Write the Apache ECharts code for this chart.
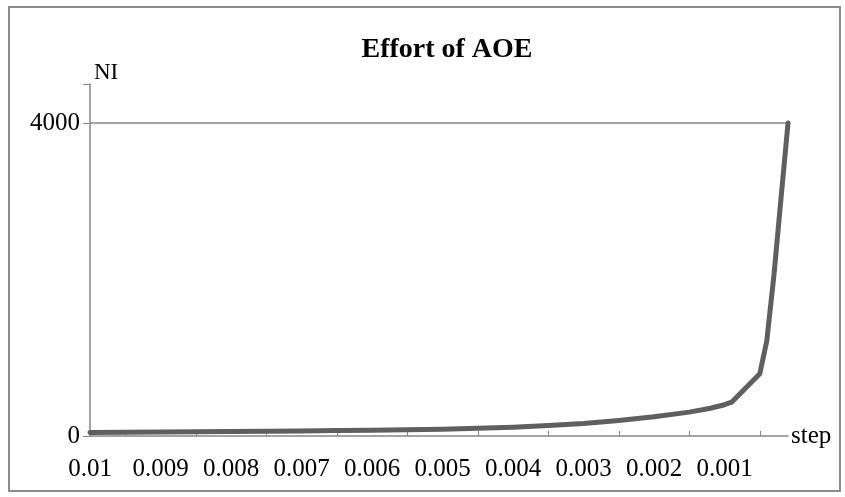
<!DOCTYPE html>
<html>
<head>
<meta charset="utf-8">
<script src="https://cdn.jsdelivr.net/npm/echarts@6/dist/echarts.min.js"></script>
<style>html,body{margin:0;padding:0;background:#fff}#c{width:845px;height:497px}</style>
</head>
<body>
<div id="c"></div>
<script>
var categories = ['0.0100','0.0099','0.0098','0.0097','0.0096','0.0095','0.0094','0.0093','0.0092','0.0091',
'0.0090','0.0089','0.0088','0.0087','0.0086','0.0085','0.0084','0.0083','0.0082','0.0081',
'0.0080','0.0079','0.0078','0.0077','0.0076','0.0075','0.0074','0.0073','0.0072','0.0071',
'0.0070','0.0069','0.0068','0.0067','0.0066','0.0065','0.0064','0.0063','0.0062','0.0061',
'0.0060','0.0059','0.0058','0.0057','0.0056','0.0055','0.0054','0.0053','0.0052','0.0051',
'0.0050','0.0049','0.0048','0.0047','0.0046','0.0045','0.0044','0.0043','0.0042','0.0041',
'0.0040','0.0039','0.0038','0.0037','0.0036','0.0035','0.0034','0.0033','0.0032','0.0031',
'0.0030','0.0029','0.0028','0.0027','0.0026','0.0025','0.0024','0.0023','0.0022','0.0021',
'0.0020','0.0019','0.0018','0.0017','0.0016','0.0015','0.0014','0.0013','0.0012','0.0011',
'0.0010','0.0009','0.0008','0.0007','0.0006','0.0005','0.0004','0.0003','0.0002','0.0001'];
var tickLabels = ['0.01','0.009','0.008','0.007','0.006','0.005','0.004','0.003','0.002','0.001'];
// measured points (step -> NI)
var pointSteps = ['0.0100','0.0095','0.0090','0.0085','0.0080','0.0075','0.0070','0.0065','0.0060','0.0055',
                  '0.0050','0.0045','0.0040','0.0035','0.0030','0.0025','0.0020','0.0015','0.0012','0.0010',
                  '0.0009','0.0005','0.0004','0.0003','0.0002','0.0001'];
var pointNI    = [45, 47, 50, 53, 56, 60, 64, 69, 74, 80,
                  87, 98, 112, 133, 160, 198, 245, 305, 355, 400,
                  432, 795, 1220, 2050, 3030, 4000];
var yTicks = [0, 4000];

var series = categories.map(function(c){ var i = pointSteps.indexOf(c); return i >= 0 ? pointNI[i] : null; });

var FONT = '"Liberation Serif", "Times New Roman", serif';
var chart = echarts.init(document.getElementById('c'));
chart.setOption({
  animation: false,
  title: { text: 'Effort of AOE', left: 442, textAlign: 'center', top: 31,
    textStyle: { fontFamily: FONT, fontSize: 28, fontWeight: 'bold', color: '#000' } },
  grid: { left: 90, right: 57, top: 84, bottom: 61, containLabel: false },
  graphic: [{ type: 'rect', shape: { x: 9, y: 7, width: 831, height: 484 },
    style: { fill: 'none', stroke: '#8c8c8c', lineWidth: 2 }, silent: true }],
  xAxis: {
    type: 'category', data: categories, boundaryGap: false,
    name: 'step', nameLocation: 'end', nameGap: 3,
    nameTextStyle: { fontFamily: FONT, fontSize: 25, color: '#000' },
    axisLine: { lineStyle: { color: '#868686', width: 1.5 } },
    axisTick: { inside: true, length: 5, lineStyle: { color: '#868686' },
      interval: function(i){ return i % 10 === 5; } },
    axisLabel: { interval: function(i){ return i % 10 === 0; }, margin: 21,
      fontFamily: FONT, fontSize: 25, color: '#000',
      formatter: function(v, i){ return tickLabels[i / 10]; } },
    splitLine: { show: false }
  },
  yAxis: {
    type: 'value', min: 0, max: 4500, interval: 4000,
    name: 'NI', nameLocation: 'end', nameGap: 0,
    nameTextStyle: { fontFamily: FONT, fontSize: 23, color: '#000', align: 'left', padding: [0,0,0,4] },
    axisLine: { show: true, lineStyle: { color: '#868686', width: 1.5 } },
    axisTick: { show: true, length: 7, lineStyle: { color: '#868686' } },
    axisLabel: { fontFamily: FONT, fontSize: 25, color: '#000', margin: 10,
      formatter: function(v){ return yTicks.indexOf(v) >= 0 ? String(v) : ''; } },
    splitLine: { show: true, showMaxLine: false, showMinLine: false, lineStyle: { color: '#868686', width: 1.5 } }
  },
  series: [{
    type: 'line', data: series, connectNulls: true, showSymbol: false, smooth: false,
    lineStyle: { color: '#5f5f5f', width: 5, cap: 'round', join: 'round' }
  }]
});
</script>
</body>
</html>
